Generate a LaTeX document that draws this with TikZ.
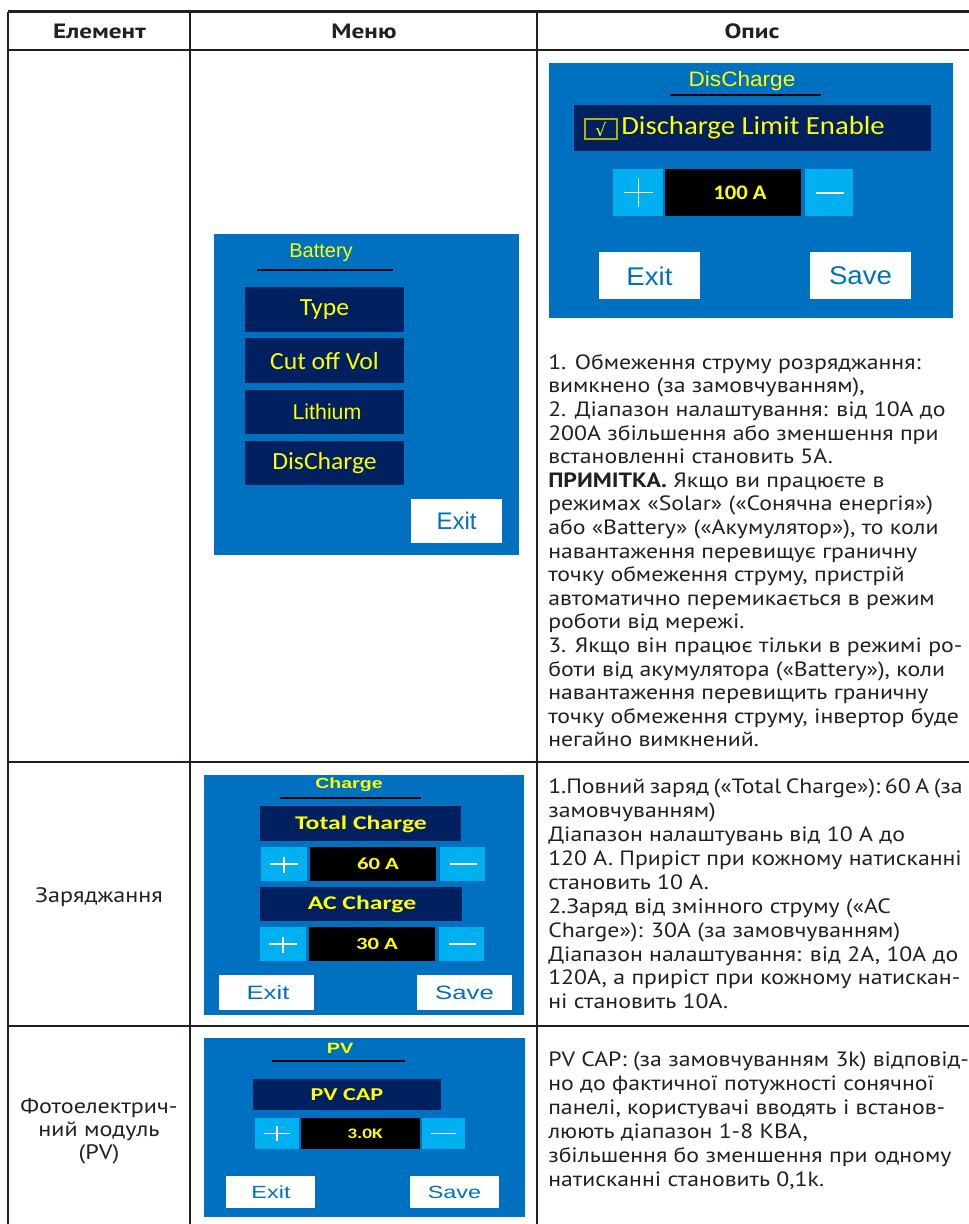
\documentclass[tikz,border=0pt]{standalone}
\usepackage{fontspec}
\setmainfont{PT Sans}[FakeStretch=1.15]
\newfontfamily\headfont{PT Sans}[FakeStretch=1.22]
\newfontfamily\calfont{Carlito}[FakeStretch=1.04]
\newfontfamily\arialfont{Liberation Sans}
\newfontfamily\calD{Carlito}[FakeStretch=1.1]
\newfontfamily\arD{Liberation Sans}[FakeStretch=1.08]
\newfontfamily\calW{Carlito}[FakeStretch=1.33]
\newfontfamily\arW{Liberation Sans}[FakeStretch=1.33]
\newfontfamily\symfont{DejaVu Sans}
\usepackage{xcolor}
\definecolor{scrblue}{RGB}{0,112,192}
\definecolor{navybar}{RGB}{0,32,96}
\definecolor{keyblue}{RGB}{0,176,240}
\definecolor{lcdyellow}{RGB}{255,255,0}
\definecolor{rulegray}{RGB}{35,31,32}
\usetikzlibrary{calc}
\newcommand{\tsp}{\hspace{3.4pt}}

\tikzset{
  rule/.style={draw=rulegray, line width=2pt},
  head/.style={font=\headfont\bfseries\fontsize{15.5}{18}\selectfont, text=rulegray},
  desc/.style={font=\fontsize{15.5}{17.7}\selectfont, text=rulegray, align=left, inner sep=0pt},
  elem/.style={font=\fontsize{15.7}{17.4}\selectfont, text=rulegray, align=center, inner sep=0pt},
  yel/.style={text=lcdyellow, inner sep=0pt},
  btntxt/.style={text=scrblue, inner sep=0pt},
  sign/.style={draw=white, line width=0.9pt},
}

\begin{document}
\begin{tikzpicture}[x=0.75pt,y=0.75pt,yscale=-1,xscale=1]
  \useasboundingbox (0,0) rectangle (969,1224);

  %Table Lines
  \draw[rule] (8,11.5) -- (969,11.5);
  \draw[rule] (8,50) -- (969,50);
  \draw[rule] (8,762) -- (969,762);
  \draw[rule] (8,1026) -- (969,1026);
  \draw[rule] (8,11.5) -- (8,1224);
  \draw[rule] (190,11.5) -- (190,1224);
  \draw[rule] (537,11.5) -- (537,1224);

  %Header
  \node[head] (hElem) at (99.5,31) {Елемент};
  \node[head] (hMenu) at (364,31) {Меню};
  \node[head] (hDesc) at (752,31) {Опис};

  %Battery screen
  \fill[scrblue] (214,234) rectangle (519,555);
  \node[yel, font=\arialfont\fontsize{15}{15}\selectfont] (batTitle) at (321,253) {Battery};
  \draw[black, line width=1.5pt] (257,270) -- (393,270);
  \fill[navybar] (245,287) rectangle (404,332);
  \fill[navybar] (245,338) rectangle (404,383);
  \fill[navybar] (245,390) rectangle (404,434);
  \fill[navybar] (245,441) rectangle (404,485);
  \node[yel, font=\calfont\fontsize{18.5}{18.5}\selectfont] (batType) at (324.5,310) {Type};
  \node[yel, font=\calfont\fontsize{18.5}{18.5}\selectfont] (batCut) at (324.5,361) {Cut off Vol};
  \node[yel, font=\arialfont\fontsize{16}{16}\selectfont] (batLith) at (327,412) {Lithium};
  \node[yel, font=\calfont\fontsize{18.5}{18.5}\selectfont] (batDis) at (324.5,463) {DisCharge};
  \fill[white] (411,499) rectangle (502,543);
  \node[btntxt, font=\arialfont\fontsize{18}{18}\selectfont] (batExit) at (456.5,521) {Exit};

  %DisCharge screen
  \fill[scrblue] (549,63) rectangle (953,318);
  \node[yel, font=\arD\fontsize{15.7}{15.7}\selectfont] (disTitle) at (742,81) {DisCharge};
  \draw[black, line width=1.5pt] (670,95) -- (821,95);
  \fill[navybar] (574,105) rectangle (931,151);
  \draw[lcdyellow!70!black, line width=0.8pt] (585,119) rectangle (617,139);
  \node[yel, font=\symfont\fontsize{13}{13}\selectfont] (disTick) at (601,130) {√};
  \node[yel, font=\calD\fontsize{19.6}{19.6}\selectfont, anchor=west] (disLim) at (621,128) {Discharge Limit Enable};
  \fill[keyblue] (613,169) rectangle (663,216);
  \fill[black] (665,169) rectangle (801,216);
  \fill[keyblue] (805,169) rectangle (853,216);
  \draw[sign] (624,192.5) -- (653,192.5);
  \draw[sign] (638.5,178) -- (638.5,207);
  \draw[sign] (816,193) -- (844,193);
  \node[yel, font=\calD\bfseries\fontsize{15.5}{15.5}\selectfont] (disVal) at (740,193) {100 A};
  \fill[white] (599,252) rectangle (700,299);
  \fill[white] (810,252) rectangle (911,299);
  \node[btntxt, font=\arD\fontsize{19.2}{19.2}\selectfont] (disExit) at (649.5,276) {Exit};
  \node[btntxt, font=\arD\fontsize{19.2}{19.2}\selectfont] (disSave) at (860.5,276) {Save};

  %Charge screen
  \fill[scrblue] (204,775) rectangle (524,1015);
  \node[yel, font=\arW\bfseries\fontsize{11}{11}\selectfont] (chgTitle) at (349,785) {Charge};
  \draw[black, line width=1.2pt] (280,798) -- (421,798);
  \fill[navybar] (260,806) rectangle (461,841);
  \node[yel, font=\calW\bfseries\fontsize{14.5}{14.5}\selectfont] (chgTot) at (361,824) {Total Charge};
  \fill[keyblue] (261,847) rectangle (307,881);
  \fill[black] (310,847) rectangle (436,881);
  \fill[keyblue] (440,847) rectangle (485,881);
  \draw[sign] (270,864) -- (298,864);
  \draw[sign] (284,857) -- (284,873);
  \draw[sign] (450,864) -- (477,864);
  \node[yel, font=\calW\bfseries\fontsize{12.8}{12.8}\selectfont] (chgTotVal) at (378,864) {60 A};
  \fill[navybar] (260,887) rectangle (462,921);
  \node[yel, font=\calW\bfseries\fontsize{14.5}{14.5}\selectfont] (chgAC) at (362,904) {AC Charge};
  \fill[keyblue] (260,927) rectangle (306,961);
  \fill[black] (309,927) rectangle (435,961);
  \fill[keyblue] (439,927) rectangle (484,961);
  \draw[sign] (269,944) -- (297,944);
  \draw[sign] (283,937) -- (283,953);
  \draw[sign] (449,944) -- (476,944);
  \node[yel, font=\calW\bfseries\fontsize{12.8}{12.8}\selectfont] (chgACVal) at (377,944) {30 A};
  \fill[white] (219,975) rectangle (314,1010);
  \fill[white] (417,975) rectangle (512,1010);
  \node[btntxt, font=\arW\fontsize{14.5}{14.5}\selectfont] (chgExit) at (268,993) {Exit};
  \node[btntxt, font=\arW\fontsize{14.5}{14.5}\selectfont] (chgSave) at (464.5,993) {Save};

  %PV screen
  \fill[scrblue] (204,1038) rectangle (525,1217);
  \node[yel, font=\arW\bfseries\fontsize{11.2}{11.2}\selectfont] (pvTitle) at (340,1048) {PV};
  \draw[black, line width=1.2pt] (272,1061) -- (405,1061);
  \fill[navybar] (253,1079) rectangle (441,1110);
  \node[yel, font=\calW\bfseries\fontsize{13.6}{13.6}\selectfont] (pvCap) at (347,1095) {PV CAP};
  \fill[keyblue] (255,1118) rectangle (299,1149);
  \fill[black] (301,1118) rectangle (420,1149);
  \fill[keyblue] (422,1118) rectangle (465,1149);
  \draw[sign] (264,1133.5) -- (290,1133.5);
  \draw[sign] (277,1126) -- (277,1141);
  \draw[sign] (431,1133.5) -- (456,1133.5);
  \node[yel, font=\calW\bfseries\fontsize{10.9}{10.9}\selectfont] (pvVal) at (365,1133.5) {3.0K};
  \fill[white] (226,1176) rectangle (315,1208);
  \fill[white] (410,1176) rectangle (499,1208);
  \node[btntxt, font=\arW\fontsize{13.2}{13.2}\selectfont] (pvExit) at (271,1192) {Exit};
  \node[btntxt, font=\arW\fontsize{13.2}{13.2}\selectfont] (pvSave) at (454.5,1192) {Save};

  %Element column
  \node[elem] (eChg) at (99,897) {Заряджання};
  \node[elem] (ePV) at (99,1131) {Фотоелектрич-\\ний модуль\\(PV)};

  %Description column
  \node[desc, anchor=north west] (dDis) at (548,354) {1. Обмеження струму розряджання:\\
вимкнено (за замовчуванням),\\
2. Діапазон налаштування: від 10A до\\
200A збільшення або зменшення при\\
встановленні становить 5A.\\
\textbf{ПРИМІТКА.} Якщо ви працюєте в\\
режимах «Solar» («Сонячна енергія»)\\
або «Battery» («Акумулятор»), то коли\\
навантаження перевищує граничну\\
точку обмеження струму, пристрій\\
автоматично перемикається в режим\\
роботи від мережі.\\
3. Якщо він працює тільки в режимі ро-\\
боти від акумулятора («Battery»), коли\\
навантаження перевищить граничну\\
точку обмеження струму, інвертор буде\\
негайно вимкнений.};
  \node[desc, font=\fontsize{15.5}{17.9}\selectfont, anchor=north west] (dChg) at (548,779) {1.Повний\tsp заряд\tsp («Total\tsp Charge»):\tsp 60\tsp A\tsp (за\\
замовчуванням)\\
Діапазон налаштувань від 10 A до\\
120 A. Приріст при кожному натисканні\\
становить 10 A.\\
2.Заряд від змінного струму («AC\\
Charge»): 30A (за замовчуванням)\\
Діапазон налаштування: від 2A, 10A до\\
120A, а приріст при кожному натискан-\\
ні становить 10A.};
  \node[desc, font=\fontsize{15.5}{17.9}\selectfont, anchor=north west] (dPV) at (548,1052) {PV CAP: (за замовчуванням 3k) відповід-\\
но до фактичної потужності сонячної\\
панелі, користувачі вводять і встанов-\\
люють діапазон 1-8 КВА,\\
збільшення бо зменшення при одному\\
натисканні становить 0,1k.};
\end{tikzpicture}
\end{document}
